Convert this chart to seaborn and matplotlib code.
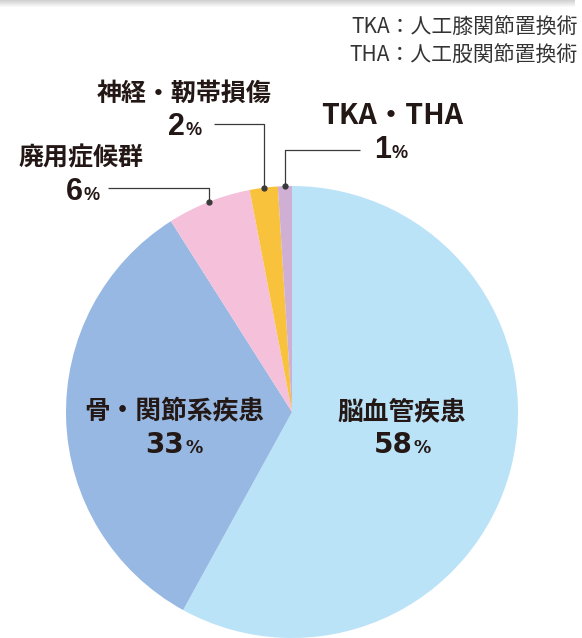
import numpy as np
import matplotlib.pyplot as plt
import seaborn as sns

# Data
categories = ["脳血管疾患", "骨・関節系疾患", "廃用症候群", "神経・靭帯損傷", "TKA・THA"]
shares = [58, 33, 6, 2, 1]
colors = ["#bbe3f8", "#96b8e2", "#f4c0da", "#f9c23c", "#cfb0d4"]
notes = ["TKA：人工膝関節置換術", "THA：人工股関節置換術"]

sns.set_theme(style="white")
plt.rcParams["font.family"] = ["Noto Sans CJK JP", "DejaVu Sans"]

W, H = 582, 638
CX, CY, R = 292, 412, 226
TXT = "#231815"


def Y(y):
    # pixel row (from top) -> data y
    return H - y


fig = plt.figure(figsize=(W / 100, H / 100), dpi=100)
ax = fig.add_axes([0, 0, 1, 1])

wedges, _ = ax.pie(shares, colors=colors, startangle=90, counterclock=False,
                   center=(CX, Y(CY)), radius=R, wedgeprops=dict(linewidth=0))
ax.set_xlim(0, W)
ax.set_ylim(0, H)
ax.set_aspect("equal")
ax.axis("off")

# faint shadow band at the top
grad = np.linspace(0.82, 1.0, 8).reshape(-1, 1) * np.ones((1, 50))
ax.imshow(grad, cmap="gray", vmin=0, vmax=1, extent=(0, 575, H - 8, H),
          aspect="auto", zorder=0, interpolation="bilinear")


def pct(xsplit, ybase, num, size, small, fam, w):
    ax.text(xsplit, Y(ybase), str(num), ha="right", va="baseline", fontsize=size,
            color=TXT, family=fam, fontweight=w)
    ax.text(xsplit + 1, Y(ybase), "%", ha="left", va="baseline", fontsize=small,
            color=TXT, family=fam, fontweight=w)


def anchor(w):
    t = np.deg2rad((w.theta1 + w.theta2) / 2)
    return CX + R * np.cos(t), Y(CY) + R * np.sin(t)


# inside labels
ax.text(402, Y(412), categories[0], ha="center", va="center", fontsize=18.5,
        fontweight="bold", color=TXT)
pct(413, 453, shares[0], 20, 12.5, "DejaVu Sans", "bold")
ax.text(174, Y(412), categories[1], ha="center", va="center", fontsize=18.5,
        fontweight="bold", color=TXT)
pct(184, 453, shares[1], 20, 12.5, "DejaVu Sans", "bold")

# outside labels with leader lines
outside = [
    # idx, label centre x, label centre y, pct split x, pct baseline, line start x, line y
    (2, 81, 158, 83, 200, 108, 188),
    (3, 184, 94, 185, 135, 214, 124),
    (4, 392, 116, 391, 158, 360, 150),
]
for idx, lx, ly, px, pb, sx, sy in outside:
    size = 20.5 if idx == 4 else 18
    ax.text(lx, Y(ly), categories[idx], ha="center", va="center", fontsize=size,
            fontweight="bold", color=TXT)
    pct(px, pb, shares[idx], 22, 13, "Liberation Sans", "bold")
    axx, axy = anchor(wedges[idx])
    ax.plot([sx, axx, axx], [Y(sy), Y(sy), axy], color="#3a3a3a", lw=0.9,
            solid_capstyle="butt")
    ax.plot([axx], [axy], "o", color="#3a3a3a", ms=3.5)

# abbreviation notes
for i, note in enumerate(notes):
    ax.text(578, Y(27 + 28.5 * i), note, ha="right", va="center", fontsize=15,
            color="#333333")

fig.savefig("out.png", dpi=100)
